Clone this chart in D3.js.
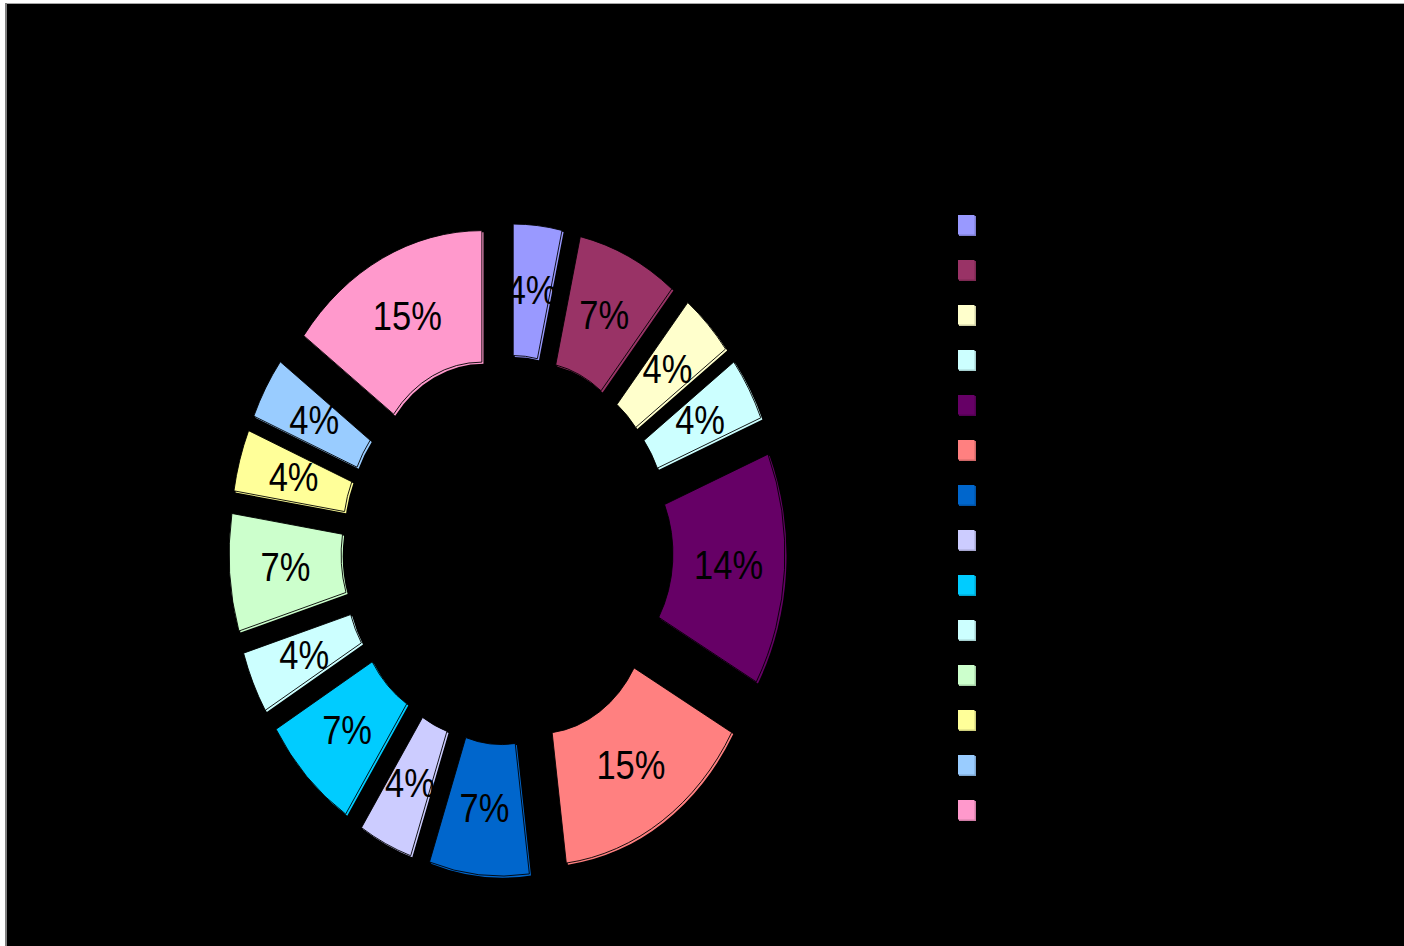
<!DOCTYPE html>
<html>
<head>
<meta charset="utf-8">
<script src="https://cdn.jsdelivr.net/npm/d3@7"></script>
<style>
  html, body { margin: 0; padding: 0; background: #ffffff; }
  svg { display: block; }
</style>
</head>
<body>
<svg id="chart" width="1404" height="946"></svg>
<script>
// ---- data ----
const categories = ["Item 1","Item 2","Item 3","Item 4","Item 5","Item 6","Item 7",
                    "Item 8","Item 9","Item 10","Item 11","Item 12","Item 13","Item 14"];
const values = [3.5, 7.3, 3.9, 3.9, 14.3, 14.7, 7.2, 3.9, 7.2, 3.8, 7.2, 3.8, 3.8, 14.7];
const colors = ["#9999FF","#993366","#FFFFCC","#CCFFFF","#660066","#FF8080","#0066CC",
                "#CCCCFF","#00CCFF","#CCFFFF","#CCFFCC","#FFFF99","#99CCFF","#FF99CC"];

// ---- layout ----
const W = 1404, H = 946;
const cx = 507, cy = 550;
const yScale = 1.174;      // chart is stretched vertically
const outerR = 222, innerR = 110, explode = 56;

const svg = d3.select("#chart");

// chart area background with border
svg.append("rect").attr("x", 0).attr("y", 0).attr("width", W).attr("height", H).attr("fill", "#ffffff");
svg.append("rect").attr("x", 6).attr("y", 4).attr("width", W).attr("height", H).attr("fill", "#000000");
svg.append("line").attr("x1", 6).attr("x2", W).attr("y1", 3.5).attr("y2", 3.5)
   .attr("stroke", "#a6a6a6").attr("stroke-width", 1);
svg.append("line").attr("x1", 6).attr("x2", 6).attr("y1", 3).attr("y2", H)
   .attr("stroke", "#808080").attr("stroke-width", 2);

const total = d3.sum(values);
const pct = d3.format(".0%");

const pie = d3.pie().sort(null).value(d => d);
const arcs = pie(values);
const arc = d3.arc().innerRadius(innerR).outerRadius(outerR);

const donut = svg.append("g")
  .attr("transform", `translate(${cx},${cy}) scale(1,${yScale})`);

const slices = donut.selectAll("g.slice")
  .data(arcs)
  .join("g")
  .attr("class", "slice")
  .attr("transform", d => {
    const mid = (d.startAngle + d.endAngle) / 2;
    return `translate(${explode * Math.sin(mid)},${-explode * Math.cos(mid)})`;
  });

// shadow copy
slices.append("path")
  .attr("d", arc)
  .attr("transform", `translate(1.6,${1.6 / yScale})`)
  .attr("fill", (d, i) => colors[i]);

// main slice
slices.append("path")
  .attr("d", arc)
  .attr("fill", (d, i) => colors[i])
  .attr("stroke", "#000000")
  .attr("stroke-width", 0.9)
  .attr("vector-effect", "non-scaling-stroke");

// labels (drawn on top)
donut.selectAll("text.lbl")
  .data(arcs)
  .join("text")
  .attr("class", "lbl")
  .attr("transform", d => {
    const mid = (d.startAngle + d.endAngle) / 2;
    const [x, y] = arc.centroid(d);
    return `translate(${x + explode * Math.sin(mid)},${y - explode * Math.cos(mid)})`;
  })
  .attr("text-anchor", "middle")
  .attr("dy", "0.32em")
  .attr("font-family", "'Liberation Sans', Arial, sans-serif")
  .attr("font-size", 34.5)
  .attr("fill", "#000000")
  .text(d => pct(d.data / total));

// legend markers
const legendY = d3.scalePoint().domain(categories).range([215, 800]);
const legend = svg.append("g");
legend.selectAll("rect.sh")
  .data(categories)
  .join("rect")
  .attr("class", "sh")
  .attr("x", 959).attr("y", d => legendY(d) + 1)
  .attr("width", 17).attr("height", 20)
  .attr("fill", (d, i) => d3.color(colors[i]).darker(0.6));
legend.selectAll("rect.mk")
  .data(categories)
  .join("rect")
  .attr("class", "mk")
  .attr("x", 958).attr("y", d => legendY(d))
  .attr("width", 16.5).attr("height", 19.5)
  .attr("fill", (d, i) => colors[i]);
</script>
</body>
</html>
